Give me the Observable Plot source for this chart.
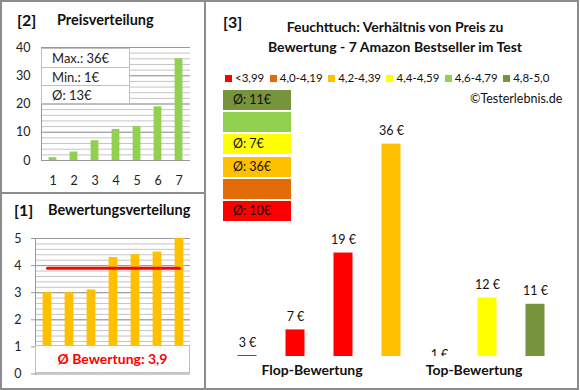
<!DOCTYPE html>
<html><head><meta charset="utf-8">
<script src="https://cdn.jsdelivr.net/npm/d3@7"></script>
<script src="https://cdn.jsdelivr.net/npm/@observablehq/plot@0.6"></script>
<style>
body{margin:0;background:#fff;font-family:Lato,"Open Sans",sans-serif;color:#111;}
#root{position:relative;width:580px;height:390px;overflow:hidden;background:#fff;}
.abs{position:absolute;white-space:nowrap;}
svg{overflow:visible;}
</style></head><body><div id="root"></div>
<script>
// ---------- data ----------
const priceCats = [1, 2, 3, 4, 5, 6, 7];
const priceValues = [1, 3, 7, 11, 12, 19, 36];
const priceTicks = [0, 10, 20, 30, 40];
const priceMinor = [0, 2, 4, 6, 8, 10, 12, 14, 16, 18, 20, 22, 24, 26, 28, 30, 32, 34, 36, 38, 40];
const priceStats = ["Max.: 36€", "Min.: 1€", "Ø: 13€"];

const ratingCats = [1, 2, 3, 4, 5, 6, 7];
const ratingValues = [3.0, 3.0, 3.1, 4.3, 4.4, 4.5, 5.0];
const ratingTicks = [0, 1, 2, 3, 4, 5];
const ratingMinor = [1, 1.2, 1.4, 1.6, 1.8, 2, 2.2, 2.4, 2.6, 2.8, 3, 3.2, 3.4, 3.6, 3.8, 4, 4.2, 4.4, 4.6, 4.8, 5];
const ratingAvg = 3.9;
const ratingAvgLabel = "Ø Bewertung: 3,9";

const productIds = ["A", "B", "C", "D", "E", "F", "G"];
const productPrices = [3, 7, 19, 36, 1, 12, 11];
const productClass = ["<3,99", "<3,99", "<3,99", "4,2-4,39", "4,4-4,59", "4,4-4,59", "4,8-5,0"];
const classLabels = ["<3,99", "4,0-4,19", "4,2-4,39", "4,4-4,59", "4,6-4,79", "4,8-5,0"];
const classColors = ["#ff0000", "#e36c09", "#ffc000", "#ffff00", "#92d050", "#77933c"];
const classAvgLabels = ["Ø: 10€", "", "Ø: 36€", "Ø: 7€", "", "Ø: 11€"];
const groupLabels = ["Flop-Bewertung", "Top-Bewertung"];
const titleLines = ["Feuchttuch: Verhältnis von Preis zu", "Bewertung - 7 Amazon Bestseller im Test"];
const copyright = "©Testerlebnis.de";

// ---------- helpers ----------
const root = document.getElementById("root");
function place(el, left, top, extra) {
  el.classList.add("abs");
  el.style.left = left + "px"; el.style.top = top + "px";
  if (extra) Object.assign(el.style, extra);
  root.appendChild(el); return el;
}
function txt(s, left, cy, size, extra) {
  const d = document.createElement("div");
  d.textContent = s;
  d.style.fontSize = size + "px";
  d.style.lineHeight = size + "px";
  return place(d, left, cy - size / 2, extra);
}
const font = "Lato, 'Open Sans', sans-serif";

// ---------- panel [2] ----------
const priceData = priceCats.map((c, i) => ({c, v: priceValues[i]}));
const p2 = Plot.plot({
  width: 200, height: 195,
  marginLeft: 41, marginRight: 10, marginTop: 47, marginBottom: 35,
  style: {fontFamily: font, fontSize: "12.5px", color: "#222", background: "transparent"},
  x: {type: "band", domain: priceCats, padding: 0, tickSize: 0, tickPadding: 16, label: null},
  y: {domain: [0, 40], ticks: priceTicks, tickSize: 0, tickPadding: 11, label: null},
  marks: [
    Plot.ruleY(priceMinor, {stroke: "#c4c4c4", strokeWidth: 1}),
    Plot.ruleY(priceTicks, {stroke: "#999", strokeWidth: 1}),
    Plot.frame({anchor: "left", stroke: "#999"}),
    Plot.barY(priceData, {x: "c", y: "v", fill: "#92d050", insetLeft: 6.6, insetRight: 6.6})
  ]
});
place(p2, 0, 0);

txt("[2]", 17, 20, 16, {fontWeight: "bold"});
txt("Preisverteilung", 57, 20, 14.5, {fontWeight: "bold"});

const statBox = document.createElement("div");
place(statBox, 41, 48, {width: "89px", height: "56px", background: "#fff", border: "1px solid #c0c0c0", boxSizing: "border-box"});
priceStats.forEach((s, i) => {
  const r = document.createElement("div");
  r.textContent = s;
  Object.assign(r.style, {height: "18px", lineHeight: "18px", fontSize: "13px", paddingLeft: "10px", color: "#222",
    borderTop: i ? "1px solid #c0c0c0" : "none", boxSizing: "border-box"});
  statBox.appendChild(r);
});

// ---------- panel [1] ----------
const ratingData = ratingCats.map((c, i) => ({c, v: ratingValues[i]}));
const p1 = Plot.plot({
  width: 205, height: 195,
  marginLeft: 35, marginRight: 15, marginTop: 45, marginBottom: 14.5,
  style: {fontFamily: font, fontSize: "12.5px", color: "#222", background: "transparent"},
  x: {type: "band", domain: ratingCats, padding: 0, axis: null},
  y: {domain: [0, 5], ticks: ratingTicks, tickFormat: d => String(d), tickSize: 0, tickPadding: 14, label: null},
  marks: [
    Plot.ruleY(ratingMinor, {stroke: "#c4c4c4", strokeWidth: 1}),
    Plot.ruleY(ratingTicks, {stroke: "#999", strokeWidth: 1, insetLeft: -4}),
    Plot.frame({anchor: "left", stroke: "#999"}),
    Plot.barY(ratingData, {x: "c", y: "v", fill: "#ffc000", insetLeft: 6.6, insetRight: 6.6}),
    Plot.lineY(ratingCats, {x: d => d, y: () => ratingAvg, stroke: "#ff0000", strokeWidth: 3})
  ]
});
place(p1, 0, 193);

txt("[1]", 14, 210, 16, {fontWeight: "bold"});
txt("Bewertungsverteilung", 48, 210, 14.5, {fontWeight: "bold"});
const avgBox = document.createElement("div");
avgBox.textContent = ratingAvgLabel;
place(avgBox, 35, 345, {width: "155px", height: "28px", background: "#fff", border: "1px solid #c0c0c0", boxSizing: "border-box",
  color: "#ff0000", fontSize: "14px", lineHeight: "26px", textAlign: "center", fontWeight: "bold"});

// ---------- panel [3] ----------
const products = productIds.map((id, i) => ({id, price: productPrices[i], cls: productClass[i]}));
const p3 = Plot.plot({
  width: 373, height: 388,
  marginLeft: 17.5, marginRight: 19.5, marginTop: 118, marginBottom: 32,
  style: {fontFamily: font, fontSize: "12px", color: "#111", background: "transparent"},
  x: {type: "band", domain: productIds, padding: 0, axis: null},
  y: {domain: [2.85, 40], axis: null},
  color: {domain: classLabels, range: classColors},
  marks: [
    Plot.barY(products, {x: "id", y: "price", fill: "cls", insetLeft: 14.5, insetRight: 14.5, clip: true}),
    Plot.text(products, {x: "id", y: "price", text: d => d.price + " €", dy: -13, clip: true, fontSize: 12.5, fill: "#111"})
  ]
});
place(p3, 205, 0);

txt("[3]", 223, 22, 16, {fontWeight: "bold"});
titleLines.forEach((s, i) => txt(s, 395, 27 + i * 19.5, 14, {fontWeight: "bold", transform: "translateX(-50%)"}));

// legend row
const leg = document.createElement("div");
place(leg, 225, 72, {display: "flex", alignItems: "center", fontSize: "11.5px", lineHeight: "12px", color: "#111"});
classLabels.forEach((l, i) => {
  const it = document.createElement("div");
  Object.assign(it.style, {display: "flex", alignItems: "center", marginRight: "5.5px"});
  const sw = document.createElement("span");
  Object.assign(sw.style, {display: "inline-block", width: "7px", height: "7px", background: classColors[i], marginRight: "3px"});
  const t = document.createElement("span"); t.textContent = l;
  it.appendChild(sw); it.appendChild(t); leg.appendChild(it);
});
txt(copyright, 470, 99, 12.5, {color: "#111"});

// class average stack (top = best class)
const stackOrder = classLabels.map((l, i) => i).reverse();
stackOrder.forEach((ci, k) => {
  const b = document.createElement("div");
  b.textContent = classAvgLabels[ci];
  place(b, 223, 90 + k * 22.2, {width: "68px", height: "20px", background: classColors[ci], fontSize: "12.5px",
    lineHeight: "20px", paddingLeft: "10px", boxSizing: "border-box", color: "#111"});
});

// group labels
txt(groupLabels[0], 312, 370, 14, {fontWeight: "bold", transform: "translateX(-50%)"});
txt(groupLabels[1], 474, 370, 14, {fontWeight: "bold", transform: "translateX(-50%)"});

// ---------- borders ----------
const outer = document.createElement("div");
place(outer, 0, 0, {width: "579px", height: "390px", border: "2px solid #8c8c8c", boxSizing: "border-box", pointerEvents: "none"});
const vdiv = document.createElement("div");
place(vdiv, 204, 0, {width: "2px", height: "390px", background: "#8c8c8c"});
const hdiv = document.createElement("div");
place(hdiv, 0, 192, {width: "205px", height: "2px", background: "#8c8c8c"});
</script>
</body></html>
